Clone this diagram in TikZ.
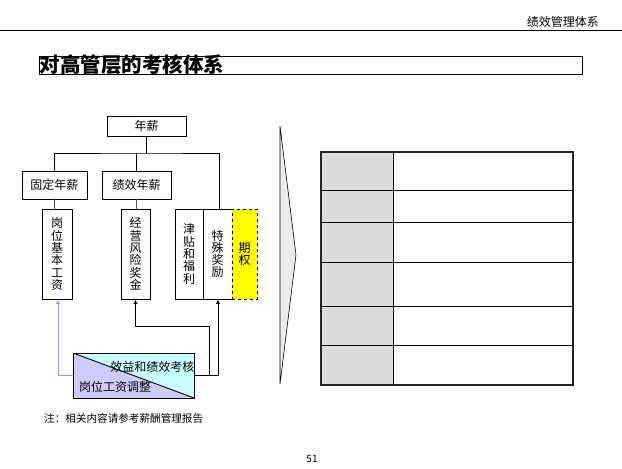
\documentclass[tikz,border=0pt]{standalone}
\usepackage{fontspec}
\setmainfont{Noto Sans CJK SC}
\usetikzlibrary{arrows.meta}
\definecolor{cyanc}{HTML}{CCFFFF}
\definecolor{lavc}{HTML}{CCCCFF}
\definecolor{lavline}{HTML}{9999FF}
\definecolor{yel}{HTML}{FFFF00}
\definecolor{tgray}{HTML}{DCDCDC}
\definecolor{chev}{HTML}{EBEBEB}
\definecolor{conn}{HTML}{555555}
\tikzset{
  box/.style={draw, line width=0.9pt, inner sep=0pt, align=center, font=\fontsize{12}{12.3}\selectfont},
  vbox/.style={box, minimum width=#1, minimum height=90pt},
  tip/.style={-{Latex[length=4.5pt,width=4pt]}},
  lbl/.style={inner sep=0pt, font=\fontsize{12}{12}\selectfont}
}
\begin{document}
\begin{tikzpicture}[x=1pt,y=-1pt]
\useasboundingbox (0,0) rectangle (622,469);
% header
\node[lbl, anchor=east] (hdr) at (599,22) {绩效管理体系};
\draw[line width=0.9pt] (0,30) -- (622,30);
% title
\node[draw, line width=0.9pt, minimum width=543pt, minimum height=18pt, inner sep=0pt] (titlebox) at (310.5,65) {};
\node[inner sep=0pt, anchor=west, font=\bfseries\fontsize{20.5}{21}\selectfont] (title) at (39.5,65) {对高管层的考核体系};
% tree
\node[box, minimum width=79pt, minimum height=20pt] (nx) at (146.5,126) {年薪};
\node[box, minimum width=65pt, minimum height=28pt] (gd) at (54.5,185) {固定年薪};
\node[box, minimum width=69pt, minimum height=28pt] (jx) at (136.5,185) {绩效年薪};
\node[vbox=30pt] (gw) at (57,254) {岗\\位\\基\\本\\工\\资};
\node[vbox=29pt] (jy) at (135.5,254) {经\\营\\风\\险\\奖\\金};
\node[vbox=28pt] (jt) at (189,254) {津\\贴\\和\\福\\利};
\node[vbox=29pt] (ts) at (217.5,254) {特\\殊\\奖\\励};
\node[vbox=25pt, fill=yel, dashed] (qq) at (244.5,254) {期\\权};
\coordinate (bus) at (146.5,153);
\draw[line width=0.9pt] (nx.south) -- (bus);
\draw[line width=0.9pt] (gd.north) |- (bus) -| ([xshift=1.5pt]ts.north);
\draw[line width=0.9pt] (jx.north) -- (jx.north |- bus);
\draw[conn, line width=0.9pt] (gd.south) -- (gd.south |- gw.north);
\draw[conn, line width=0.9pt] (jx.south) -- (jx.south |- jy.north);
% adjustment box
\node[draw, line width=0.9pt, minimum width=121pt, minimum height=45pt, inner sep=0pt,
  path picture={
    \fill[cyanc] (path picture bounding box.north west) -- (path picture bounding box.north east) -- (path picture bounding box.south east) -- cycle;
    \fill[lavc] (path picture bounding box.north west) -- (path picture bounding box.south west) -- (path picture bounding box.south east) -- cycle;
    \draw[line width=0.9pt] (path picture bounding box.north west) -- (path picture bounding box.south east);
  }] (adj) at (133.5,375.5) {};
\node[lbl, anchor=east] (adjA) at (194.5,367) {效益和绩效考核};
\node[lbl, anchor=west] (adjB) at (79,387) {岗位工资调整};
\draw[lavline, line width=0.9pt, tip] (adj.west) -| ([xshift=1pt]gw.south);
\draw[line width=0.9pt, tip] (adj.east) -- ++(15,0) -- ++(0,-49.5) -| (jy.south);
\draw[line width=0.9pt, tip] (adj.east) -| ([xshift=0.5pt]ts.south);
% note
\node[inner sep=0pt, anchor=west, font=\fontsize{10.6}{11}\selectfont] (note) at (44,418) {注：相关内容请参考薪酬管理报告};
% chevron
\draw[fill=chev, line width=0.6pt] (280,126) -- (296,255) -- (280,384) -- cycle;
% table
\fill[tgray] (321,152) rectangle (393,385);
\foreach \yy in {190,222,262,306,345} \draw[line width=0.9pt] (321,\yy) -- (573,\yy);
\draw[line width=0.9pt] (393,152) -- (393,385);
\draw[line width=1.4pt, color=black!85] (321,152) rectangle (573,385);
% page number
\node[inner sep=0pt, font=\fontsize{10}{10}\selectfont] (pg) at (312,459) {51};
\end{tikzpicture}
\end{document}
